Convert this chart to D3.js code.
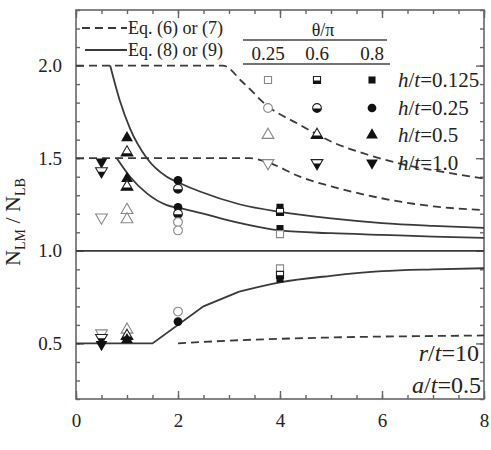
<!DOCTYPE html>
<meta charset="utf-8">
<style>
body { margin: 0; background: #fff; }
text { font-family: "Liberation Serif", "Times New Roman", "DejaVu Serif", serif; fill: #222; }
.curve { fill: none; stroke: #3a3a3a; stroke-width: 1.8; }
.dash { stroke-dasharray: 8, 5; }
.axis path, .axis line { stroke: #666; stroke-width: 1.4; }
</style>
<svg width="491" height="450"></svg>
<script src="https://d3js.org/d3.v7.min.js"></script>
<script>

// theory curves, [N, N_LM/N_LB]
var eq67Upper = [[0,2.0],[2.88,2.0],[3.27,1.91],[3.74,1.785],[4.39,1.68],[5.04,1.585],[5.71,1.52],[6.36,1.47],[7.01,1.435],[8,1.39]];
var eq67Lower = [[0,1.5],[3.41,1.5],[3.74,1.48],[4.39,1.40],[5.04,1.345],[5.71,1.30],[6.36,1.265],[7.01,1.24],[8,1.22]];
var eq67Bottom = [[2,0.50],[3,0.515],[4,0.525],[5,0.532],[6,0.537],[7,0.54],[8,0.543]];
var eq89Upper = [[0.67,2.0],[0.86,1.81],[1.06,1.66],[1.39,1.50],[1.78,1.40],[2.04,1.365],[2.43,1.32],[3.22,1.25],[4,1.21],[5,1.175],[6,1.15],[7,1.135],[8,1.124]];
var eq89Lower = [[0.8,1.5],[1.06,1.40],[1.39,1.31],[1.78,1.247],[2.04,1.23],[2.43,1.205],[3.22,1.15],[4,1.11],[5,1.095],[6,1.086],[7,1.077],[8,1.07]];
var eq89Bottom = [[0,0.5],[1.5,0.5],[2.5,0.70],[3.2,0.78],[4,0.83],[5,0.865],[6,0.89],[7,0.90],[8,0.906]];
var unity = [[0,1],[8,1]];

// test points, [N, ratio, theta/pi]
var ptsH0125 = [[4,1.235,0.8],[4,1.21,0.6],[4,1.12,0.8],[4,1.09,0.25],[4,0.905,0.25],[4,0.87,0.6],[4,0.848,0.8]];
var ptsH025 = [[2,1.38,0.8],[2,1.335,0.6],[2,1.235,0.8],[2,1.20,0.6],[2,1.155,0.25],[2,1.11,0.25],[2,0.672,0.25],[2,0.618,0.8]];
var ptsH05 = [[1,1.61,0.8],[1,1.53,0.6],[1,1.39,0.8],[1,1.345,0.6],[1,1.22,0.25],[1,1.17,0.25],[1,0.574,0.25],[1,0.54,0.6],[1,0.52,0.8]];
var ptsH10 = [[0.5,1.48,0.8],[0.5,1.43,0.6],[0.5,1.18,0.25],[0.5,0.555,0.25],[0.5,0.53,0.6],[0.5,0.495,0.8]];

var thetaLabels = ["0.25", "0.6", "0.8"];
var htValues = ["0.125", "0.25", "0.5", "1.0"];

var svg = d3.select("svg");

var x = d3.scaleLinear().domain([0, 8]).range([76, 484]);
var y = d3.scaleLinear().domain([0.2, 2.3]).range([399, 10]);

var shapes = [d3.symbolSquare, d3.symbolCircle, d3.symbolTriangle, d3.symbolTriangle];
var sizes = [50, 60, 60, 60];

var defs = svg.append("defs");
defs.append("clipPath").attr("id", "lowhalf")
  .append("rect").attr("x", -10).attr("y", 0.5).attr("width", 20).attr("height", 10);

var line = d3.line().x(d => x(d[0])).y(d => y(d[1])).curve(d3.curveMonotoneX);
var lineLin = d3.line().x(d => x(d[0])).y(d => y(d[1]));

// axes (ticks inside on all sides)
var xMajor = d3.range(0, 8.01, 2), xMinor = d3.range(0, 8.01, 0.5);
var yMajor = [0.5, 1.0, 1.5, 2.0], yMinor = d3.range(0.2, 2.31, 0.1);

function labels(g) {
  g.selectAll("text").attr("font-size", 19).attr("font-family", null).attr("fill", "#222");
}

svg.append("g").attr("class", "axis").attr("transform", "translate(0,399)")
  .call(d3.axisBottom(x).tickValues(xMinor).tickSize(-4).tickFormat(""));
svg.append("g").attr("class", "axis").attr("transform", "translate(0,399)")
  .call(d3.axisBottom(x).tickValues(xMajor).tickSizeInner(-8).tickSizeOuter(0).tickPadding(15).tickFormat(d3.format("d")))
  .call(labels);
svg.append("g").attr("class", "axis").attr("transform", "translate(0,10)")
  .call(d3.axisTop(x).tickValues(xMinor).tickSize(-4).tickFormat(""));
svg.append("g").attr("class", "axis").attr("transform", "translate(0,10)")
  .call(d3.axisTop(x).tickValues(xMajor).tickSize(-8).tickFormat(""));

svg.append("g").attr("class", "axis").attr("transform", "translate(76,0)")
  .call(d3.axisLeft(y).tickValues(yMinor).tickSize(-4).tickFormat(""));
svg.append("g").attr("class", "axis").attr("transform", "translate(76,0)")
  .call(d3.axisLeft(y).tickValues(yMajor).tickSizeInner(-8).tickSizeOuter(0).tickPadding(14).tickFormat(d3.format(".1f")))
  .call(labels);
svg.append("g").attr("class", "axis").attr("transform", "translate(484,0)")
  .call(d3.axisRight(y).tickValues(yMinor).tickSize(-4).tickFormat(""));
svg.append("g").attr("class", "axis").attr("transform", "translate(484,0)")
  .call(d3.axisRight(y).tickValues(yMajor).tickSize(-8).tickFormat(""));
svg.selectAll(".axis .domain").remove();
svg.selectAll(".axis").attr("font-family", null);

svg.append("rect").attr("x", 76).attr("y", 10).attr("width", 408).attr("height", 389)
  .attr("fill", "none").attr("stroke", "#666").attr("stroke-width", 1.6);

// curves
[eq67Upper, eq67Lower, eq67Bottom].forEach(function(d) {
  svg.append("path").attr("class", "curve dash").attr("d", line(d));
});
[eq89Upper, eq89Lower].forEach(function(d) {
  svg.append("path").attr("class", "curve").attr("d", line(d));
});
svg.append("path").attr("class", "curve").attr("d", lineLin(eq89Bottom.slice(0, 4)));
svg.append("path").attr("class", "curve").attr("d", line(eq89Bottom.slice(3)));
svg.append("path").attr("class", "curve").attr("d", lineLin(unity));

// markers
function marker(g, si, theta) {
  var sym = d3.symbol().type(shapes[si]).size(sizes[si]);
  var rot = si === 3 ? "rotate(180)" : null;
  if (theta === 0.25) {
    g.append("path").attr("d", sym()).attr("transform", rot)
      .attr("fill", "#fff").attr("stroke", "#888").attr("stroke-width", 1.1);
  } else if (theta === 0.6) {
    g.append("path").attr("d", sym()).attr("transform", rot)
      .attr("fill", "#fff").attr("stroke", "#222").attr("stroke-width", 1.1);
    g.append("g").attr("clip-path", "url(#lowhalf)")
      .append("path").attr("d", sym()).attr("transform", rot).attr("fill", "#111");
  } else {
    g.append("path").attr("d", sym()).attr("transform", rot).attr("fill", "#111");
  }
}

[ptsH0125, ptsH025, ptsH05, ptsH10].forEach(function(pts, si) {
  pts.forEach(function(p) {
    var g = svg.append("g").attr("transform", "translate(" + x(p[0]) + "," + y(p[1]) + ")");
    marker(g, si, p[2]);
  });
});

// legend, left
svg.append("line").attr("class", "curve dash").attr("x1", 82).attr("x2", 127).attr("y1", 28).attr("y2", 28);
svg.append("text").attr("x", 128).attr("y", 34).attr("font-size", 18).text("Eq. (6) or (7)");
svg.append("line").attr("class", "curve").attr("x1", 85).attr("x2", 127).attr("y1", 50).attr("y2", 50);
svg.append("text").attr("x", 128).attr("y", 56).attr("font-size", 18).text("Eq. (8) or (9)");

// legend, right
svg.append("text").attr("x", 323).attr("y", 36).attr("font-size", 18).attr("text-anchor", "middle").text("θ/π");
svg.append("line").attr("x1", 243).attr("x2", 387).attr("y1", 40).attr("y2", 40).attr("stroke", "#444").attr("stroke-width", 1.5);
var colX = [268, 317, 372];
thetaLabels.forEach(function(t, i) {
  svg.append("text").attr("x", colX[i]).attr("y", 60).attr("font-size", 19).attr("text-anchor", "middle").text(t);
});
svg.append("line").attr("x1", 243).attr("x2", 390).attr("y1", 64).attr("y2", 64).attr("stroke", "#444").attr("stroke-width", 1.5);

var rowY = [80, 108, 135, 163];
var thetaVals = [0.25, 0.6, 0.8];
htValues.forEach(function(v, r) {
  thetaVals.forEach(function(th, c) {
    var g = svg.append("g").attr("transform", "translate(" + colX[c] + "," + rowY[r] + ")");
    marker(g, r, th);
  });
  var t = svg.append("text").attr("x", 398).attr("y", rowY[r] + 7).attr("font-size", 21);
  t.append("tspan").attr("font-style", "italic").text("h");
  t.append("tspan").text("/");
  t.append("tspan").attr("font-style", "italic").text("t");
  t.append("tspan").text("=" + v);
});

// annotations
var a1 = svg.append("text").attr("x", 479).attr("y", 361).attr("font-size", 24).attr("text-anchor", "end");
a1.append("tspan").attr("font-style", "italic").text("r");
a1.append("tspan").text("/");
a1.append("tspan").attr("font-style", "italic").text("t");
a1.append("tspan").text("=10");
var a2 = svg.append("text").attr("x", 481).attr("y", 393).attr("font-size", 24).attr("text-anchor", "end");
a2.append("tspan").attr("font-style", "italic").text("a");
a2.append("tspan").text("/");
a2.append("tspan").attr("font-style", "italic").text("t");
a2.append("tspan").text("=0.5");

// axis titles
var yl = svg.append("text").attr("transform", "translate(20,222) rotate(-90)")
  .attr("text-anchor", "middle").attr("font-size", 22);
yl.append("tspan").text("N");
yl.append("tspan").attr("font-size", 14).attr("dy", 5).text("LM");
yl.append("tspan").attr("dy", -5).text(" / N");
yl.append("tspan").attr("font-size", 14).attr("dy", 5).text("LB");

// x title, mostly below the visible area as in the source
svg.append("text").attr("x", 281).attr("y", 464).attr("font-size", 22).attr("text-anchor", "middle").text("N");

</script>
